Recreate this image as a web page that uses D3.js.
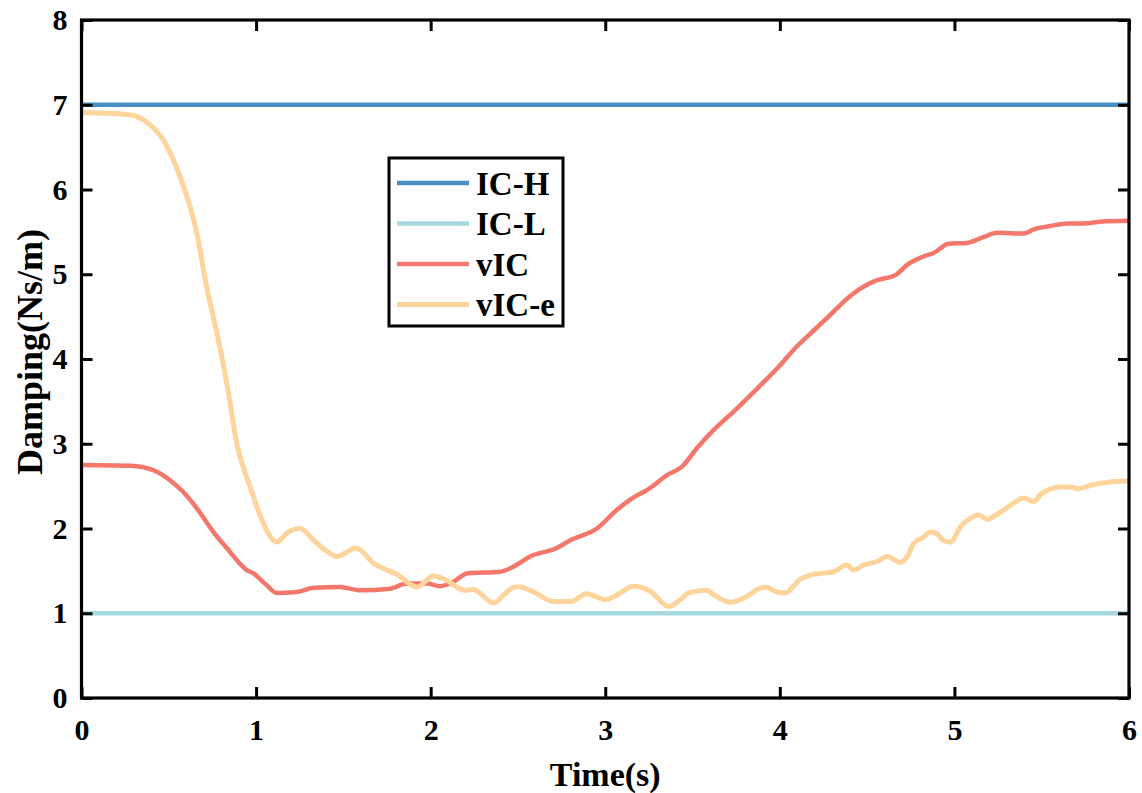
<!DOCTYPE html>
<html>
<head>
<meta charset="utf-8">
<script src="https://cdn.jsdelivr.net/npm/d3@7"></script>
<style>
  html, body { margin: 0; padding: 0; background: #fff; }
  svg { display: block; }
  text { font-family: "Liberation Serif", "Times New Roman", serif; font-weight: bold; fill: #000; }
</style>
</head>
<body>
<svg id="chart" width="1142" height="793"></svg>
<script>
// Axis ticks
const xTicks = [0, 1, 2, 3, 4, 5, 6];
const yTicks = [0, 1, 2, 3, 4, 5, 6, 7, 8];

// Series names and constant damping levels
const seriesNames = ["IC-H", "IC-L", "vIC", "vIC-e"];
const icHigh = 7;
const icLow = 1;

// Variable damping (vIC): time (s) and damping (Ns/m)
const vicTime = [0, 0.28, 0.41, 0.507, 0.583, 0.66, 0.755, 0.832, 0.947, 0.985, 1.061, 1.118, 1.233, 1.33, 1.48, 1.596, 1.768, 1.864, 1.978, 2.054, 2.13, 2.207, 2.398, 2.475, 2.57, 2.723, 2.80, 2.952, 3.067, 3.143, 3.258, 3.354, 3.44, 3.526, 3.62, 3.735, 3.85, 4.003, 4.098, 4.175, 4.308, 4.347, 4.461, 4.557, 4.662, 4.729, 4.824, 4.881, 4.967, 5.073, 5.168, 5.245, 5.397, 5.455, 5.55, 5.646, 5.741, 5.837, 6.0];
const vicDamp = [2.75, 2.74, 2.69, 2.57, 2.43, 2.24, 1.96, 1.77, 1.51, 1.47, 1.33, 1.24, 1.25, 1.30, 1.31, 1.27, 1.29, 1.35, 1.35, 1.32, 1.37, 1.47, 1.49, 1.55, 1.67, 1.77, 1.86, 2.00, 2.22, 2.34, 2.48, 2.63, 2.73, 2.95, 3.16, 3.38, 3.61, 3.93, 4.15, 4.30, 4.56, 4.64, 4.83, 4.93, 4.99, 5.11, 5.21, 5.25, 5.36, 5.37, 5.44, 5.49, 5.48, 5.53, 5.57, 5.60, 5.60, 5.62, 5.63];

// Variable damping, second variant (vIC-e)
const viceTime = [0, 0.15, 0.28, 0.37, 0.47, 0.565, 0.66, 0.717, 0.775, 0.832, 0.889, 0.966, 1.042, 1.118, 1.185, 1.252, 1.33, 1.405, 1.462, 1.52, 1.567, 1.596, 1.672, 1.74, 1.806, 1.921, 2.016, 2.07, 2.198, 2.245, 2.36, 2.43, 2.484, 2.513, 2.589, 2.704, 2.80, 2.895, 2.943, 3.0, 3.086, 3.162, 3.258, 3.363, 3.43, 3.477, 3.583, 3.62, 3.716, 3.812, 3.87, 3.917, 3.984, 4.03, 4.117, 4.175, 4.232, 4.308, 4.385, 4.423, 4.48, 4.557, 4.614, 4.69, 4.73, 4.766, 4.824, 4.862, 4.90, 4.93, 4.977, 5.034, 5.09, 5.139, 5.187, 5.254, 5.34, 5.397, 5.455, 5.493, 5.608, 5.665, 5.703, 5.799, 5.894, 6.0];
const viceDamp = [6.91, 6.90, 6.88, 6.80, 6.58, 6.15, 5.49, 4.85, 4.31, 3.72, 3.01, 2.49, 2.06, 1.84, 1.96, 2.00, 1.86, 1.73, 1.67, 1.72, 1.77, 1.75, 1.59, 1.52, 1.46, 1.31, 1.44, 1.41, 1.27, 1.28, 1.12, 1.24, 1.31, 1.31, 1.25, 1.14, 1.14, 1.23, 1.20, 1.16, 1.24, 1.32, 1.26, 1.08, 1.16, 1.24, 1.27, 1.22, 1.13, 1.20, 1.28, 1.31, 1.25, 1.24, 1.40, 1.45, 1.47, 1.49, 1.57, 1.51, 1.57, 1.61, 1.67, 1.60, 1.67, 1.82, 1.90, 1.96, 1.94, 1.87, 1.84, 2.02, 2.12, 2.16, 2.11, 2.18, 2.30, 2.36, 2.32, 2.40, 2.49, 2.49, 2.47, 2.52, 2.55, 2.56];

const colors = { "IC-H": "#4a8fc4", "IC-L": "#a6dadf", "vIC": "#f4776b", "vIC-e": "#fdd59c" };
const widths = { "IC-H": 4.5, "IC-L": 4.5, "vIC": 4.5, "vIC-e": 5 };

const svg = d3.select("#chart");
const plotLeft = 81.5, plotRight = 1129, plotTop = 20, plotBottom = 698;

const x = d3.scaleLinear().domain([0, 6]).range([plotLeft, plotRight]);
const y = d3.scaleLinear().domain([0, 8]).range([plotBottom, plotTop]);

svg.append("defs").append("clipPath").attr("id", "plotClip")
  .append("rect").attr("x", plotLeft).attr("y", plotTop)
  .attr("width", plotRight - plotLeft).attr("height", plotBottom - plotTop);

const lines = svg.append("g").attr("clip-path", "url(#plotClip)");
const line = d3.line().x(d => x(d[0])).y(d => y(d[1])).curve(d3.curveMonotoneX);

const series = [
  { name: "IC-H", pts: [[0, icHigh], [6, icHigh]] },
  { name: "IC-L", pts: [[0, icLow], [6, icLow]] },
  { name: "vIC", pts: vicTime.map((t, i) => [t, vicDamp[i]]) },
  { name: "vIC-e", pts: viceTime.map((t, i) => [t, viceDamp[i]]) }
];

series.forEach(s => {
  lines.append("path")
    .attr("d", line(s.pts))
    .attr("fill", "none")
    .attr("stroke", colors[s.name])
    .attr("stroke-width", widths[s.name])
    .attr("stroke-linejoin", "round");
});

// Box axes with inward ticks
const tickLen = 11;
const axisStyle = g => {
  g.selectAll(".domain").remove();
  g.selectAll(".tick line").attr("stroke", "#000").attr("stroke-width", 3);
  g.selectAll(".tick text").style("font-size", "30px");
};

svg.append("g").attr("transform", `translate(0,${plotBottom})`)
  .call(d3.axisBottom(x).tickValues(xTicks).tickFormat(d3.format("d")).tickSizeInner(-tickLen).tickPadding(21))
  .call(axisStyle);
svg.append("g").attr("transform", `translate(0,${plotTop})`)
  .call(d3.axisTop(x).tickValues(xTicks).tickSizeInner(-tickLen).tickFormat(""))
  .call(axisStyle);
svg.append("g").attr("transform", `translate(${plotLeft},0)`)
  .call(d3.axisLeft(y).tickValues(yTicks).tickFormat(d3.format("d")).tickSizeInner(-tickLen).tickPadding(14))
  .call(axisStyle);
svg.append("g").attr("transform", `translate(${plotRight},0)`)
  .call(d3.axisRight(y).tickValues(yTicks).tickSizeInner(-tickLen).tickFormat(""))
  .call(axisStyle);

svg.append("rect")
  .attr("x", plotLeft).attr("y", plotTop)
  .attr("width", plotRight - plotLeft).attr("height", plotBottom - plotTop)
  .attr("fill", "none").attr("stroke", "#000").attr("stroke-width", 3.2);

// Axis titles
svg.append("text")
  .attr("x", (plotLeft + plotRight) / 2).attr("y", 786)
  .attr("text-anchor", "middle").style("font-size", "34px")
  .text("Time(s)");
svg.append("text")
  .attr("transform", `translate(42,352) rotate(-90)`)
  .attr("text-anchor", "middle").style("font-size", "36px")
  .text("Damping(Ns/m)");

// Legend
const legend = svg.append("g");
const lx = 389, ly = 158, lw = 174, lh = 168;
legend.append("rect")
  .attr("x", lx).attr("y", ly).attr("width", lw).attr("height", lh)
  .attr("fill", "#fff").attr("stroke", "#000").attr("stroke-width", 3);
seriesNames.forEach((name, i) => {
  const cy = 183 + i * 40.5;
  legend.append("line")
    .attr("x1", 397).attr("x2", 469).attr("y1", cy).attr("y2", cy)
    .attr("stroke", colors[name]).attr("stroke-width", widths[name]);
  legend.append("text")
    .attr("x", 476).attr("y", cy).attr("dy", "0.35em")
    .style("font-size", "33px")
    .text(name);
});
</script>
</body>
</html>
